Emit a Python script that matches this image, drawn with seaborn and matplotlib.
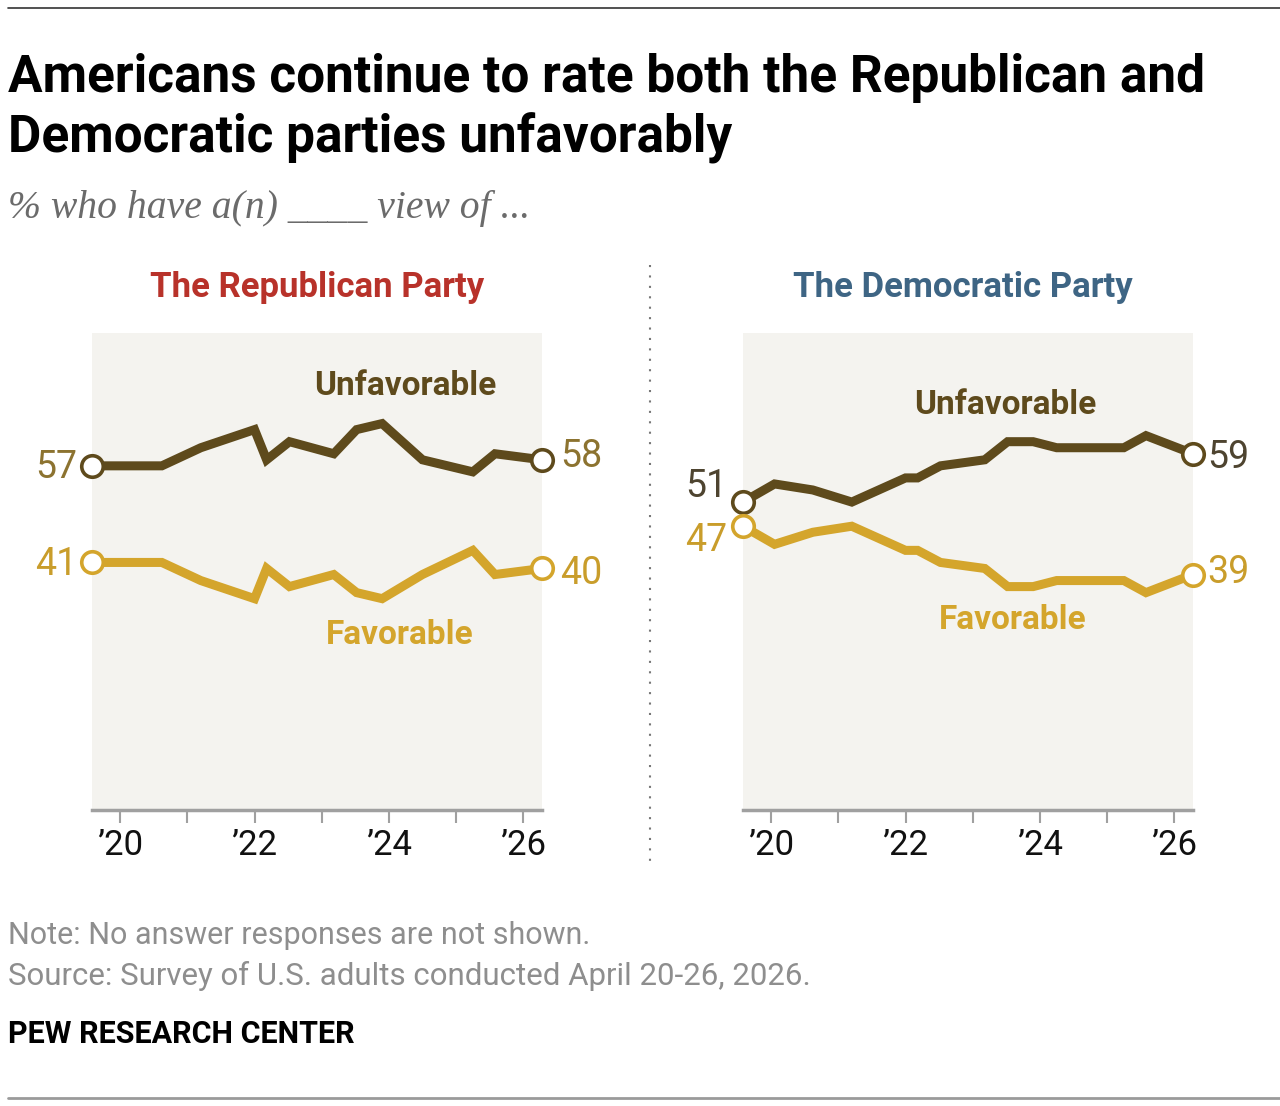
import matplotlib
matplotlib.use("Agg")
import matplotlib.pyplot as plt
import pandas as pd
import seaborn as sns

# survey dates as decimal years
rep_dates = [2019.58, 2020.62, 2021.2, 2022.0, 2022.18, 2022.52, 2023.18,
             2023.52, 2023.9, 2024.5, 2025.25, 2025.58, 2026.28]
rep_unfav = [57, 57, 60, 63, 58, 61, 59, 63, 64, 58, 56, 59, 58]
rep_fav = [41, 41, 38, 35, 40, 37, 39, 36, 35, 39, 43, 39, 40]

dem_dates = [2019.58, 2020.05, 2020.62, 2021.2, 2022.0, 2022.18, 2022.52,
             2023.18, 2023.52, 2023.9, 2024.25, 2025.25, 2025.58, 2026.28]
dem_unfav = [51, 54, 53, 51, 55, 55, 57, 58, 61, 61, 60, 60, 62, 59]
dem_fav = [47, 44, 46, 47, 43, 43, 41, 40, 37, 37, 38, 38, 36, 39]

year_ticks = [2020, 2021, 2022, 2023, 2024, 2025, 2026]
year_labels = ["\u201920", "", "\u201922", "", "\u201924", "", "\u201926"]

UNFAV = "#5E4A1C"
FAV = "#D4A52C"
FAV_TXT = "#C99D2B"
BG = "#F4F3EF"

W, H = 1280, 1106


def make_frame(dates, unfav, fav):
    df = pd.DataFrame({"date": dates, "Unfavorable": unfav, "Favorable": fav})
    return df.melt(id_vars="date", var_name="view", value_name="pct")


def fx(px):
    return px / W


def fy(py):
    return 1 - py / H


def draw_panel(ax, df, label_pos, end_labels, unfav_txt):
    ax.set_facecolor(BG)
    sns.lineplot(data=df, x="date", y="pct", hue="view",
                 palette={"Unfavorable": UNFAV, "Favorable": FAV},
                 linewidth=6.5, legend=False, ax=ax, solid_joinstyle="miter",
                 solid_capstyle="butt", clip_on=False)
    for view, col in [("Unfavorable", UNFAV), ("Favorable", FAV)]:
        sub = df[df["view"] == view]
        ends = sub.iloc[[0, -1]]
        ax.scatter(ends["date"], ends["pct"], s=240, facecolor="white",
                   edgecolor=col, linewidth=2.6, zorder=5, clip_on=False)
        txt = unfav_txt if view == "Unfavorable" else FAV_TXT
        for (row, (dx, dy, ha)) in zip(ends.itertuples(), end_labels[view]):
            ax.annotate(f"{row.pct:.0f}", (row.date, row.pct), xytext=(dx, dy),
                        textcoords="offset pixels", ha=ha, va="center",
                        fontsize=27, color=txt, annotation_clip=False)
        lx, ly = label_pos[view]
        ax.text(lx, ly, view, ha="center", va="center", fontsize=24,
                fontweight="bold", color=UNFAV if view == "Unfavorable" else FAV)

    ax.set_xlim(2019.58, 2026.28)
    ax.set_ylim(0, 79)
    ax.set_xticks(year_ticks)
    ax.set_xticklabels(year_labels)
    ax.set_yticks([])
    ax.set_xlabel("")
    ax.set_ylabel("")
    for s in ["top", "left", "right"]:
        ax.spines[s].set_visible(False)
    ax.spines["bottom"].set_color("#A0A0A0")
    ax.spines["bottom"].set_linewidth(2.5)
    ax.tick_params(axis="x", bottom=True, direction="out", length=9, width=1.5,
                   color="#A0A0A0", labelsize=25, labelcolor="#111111", pad=5)
    ax.grid(False)


sns.set_theme(style="white")
plt.rcParams["font.family"] = ["Roboto", "DejaVu Sans"]

fig = plt.figure(figsize=(W / 100, H / 100), dpi=100)

ax1 = fig.add_axes([fx(92), fy(810), fx(450), 477 / H])
ax2 = fig.add_axes([fx(743), fy(810), fx(450), 477 / H])

draw_panel(ax1, make_frame(rep_dates, rep_unfav, rep_fav),
           {"Unfavorable": (2024.25, 70.2), "Favorable": (2024.16, 29.0)},
           {"Unfavorable": [(-15, -2, "right"), (18, 3, "left")],
            "Favorable": [(-15, -2, "right"), (18, -5, "left")]},
           "#8C7330")
draw_panel(ax2, make_frame(dem_dates, dem_unfav, dem_fav),
           {"Unfavorable": (2023.49, 67.1), "Favorable": (2023.6, 31.5)},
           {"Unfavorable": [(-16, 16, "right"), (14, -4, "left")],
            "Favorable": [(-16, -14, "right"), (14, 2, "left")]},
           "#4E4430")

# titles and notes
fig.text(fx(8), fy(92), "Americans continue to rate both the Republican and",
         fontsize=37, fontweight="bold", color="black", va="baseline")
fig.text(fx(8), fy(152), "Democratic parties unfavorably",
         fontsize=37, fontweight="bold", color="black", va="baseline")
fig.text(fx(8), fy(218), "% who have a(n) ____ view of ...", fontsize=28.5,
         style="italic", color="#6B6B6B", va="baseline",
         family=["Liberation Serif", "DejaVu Serif"])
fig.text(fx(317), fy(288), "The Republican Party", fontsize=25,
         fontweight="bold", color="#B8322A", ha="center", va="center")
fig.text(fx(963), fy(288), "The Democratic Party", fontsize=25,
         fontweight="bold", color="#3E6584", ha="center", va="center")
fig.text(fx(8), fy(944), "Note: No answer responses are not shown.",
         fontsize=22, color="#8E8E8E", va="baseline")
fig.text(fx(8), fy(985), "Source: Survey of U.S. adults conducted April 20-26, 2026.",
         fontsize=22.5, color="#8E8E8E", va="baseline")
fig.text(fx(8), fy(1043), "PEW RESEARCH CENTER", fontsize=22,
         fontweight="bold", color="black", va="baseline")

# separators
fig.add_artist(plt.Line2D([fx(8), 1], [fy(8), fy(8)], color="#333333", lw=1.2))
fig.add_artist(plt.Line2D([fx(8), 1], [fy(1098), fy(1098)], color="#9A9A9A", lw=2))
fig.add_artist(plt.Line2D([fx(650), fx(650)], [fy(265), fy(868)],
                          color="#777777", lw=1.5, linestyle=(0, (1, 4))))

fig.savefig("out.png", dpi=100, facecolor="white")
